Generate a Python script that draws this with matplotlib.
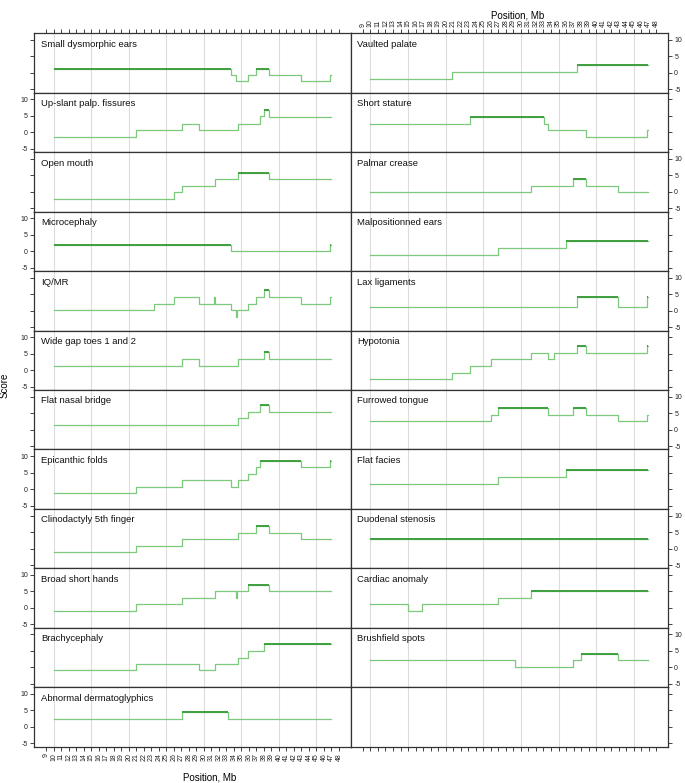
import matplotlib
matplotlib.use("Agg")
import matplotlib.pyplot as plt

plt.rcParams['font.family'] = ['Liberation Sans', 'DejaVu Sans']

END = 46.9

# Left column panels: (title, step start positions in Mb, score values)
left_titles = ["Small dysmorphic ears", "Up-slant palp. fissures", "Open mouth", "Microcephaly",
               "IQ/MR", "Wide gap toes 1 and 2", "Flat nasal bridge", "Epicanthic folds",
               "Clinodactyly 5th finger", "Broad short hands", "Brachycephaly",
               "Abnormal dermatoglyphics"]
left_pos = [
    [10, 33.6, 34.27, 35.91, 36.93, 38.62, 42.93, 46.76],
    [10, 20.89, 27.02, 29.29, 34.49, 37.47, 38.0, 38.62],
    [10, 26.0, 27.02, 31.42, 34.49, 38.62],
    [10, 33.6, 46.76],
    [10, 23.33, 26.0, 29.29, 31.35, 31.5, 33.6, 34.27, 34.42, 35.91, 36.93, 38.0, 38.62, 42.93, 46.76],
    [10, 27.02, 29.29, 34.49, 38.0, 38.62],
    [10, 34.49, 35.91, 37.47, 38.62],
    [10, 20.89, 27.02, 33.6, 34.49, 35.91, 36.93, 37.47, 42.93, 46.76],
    [10, 20.89, 27.02, 34.49, 36.93, 38.62, 42.93],
    [10, 20.89, 27.02, 31.42, 34.33, 34.45, 35.91, 38.62],
    [10, 20.89, 29.29, 31.42, 34.49, 35.91, 38.0],
    [10, 27.02, 33.16],
]
left_val = [
    [1.3, -0.5, -2.45, -0.5, 1.3, -0.5, -2.45, -0.5],
    [-1.3, 0.6, 2.55, 0.6, 2.55, 5.0, 6.8, 4.7],
    [-2.2, -0.15, 1.8, 3.8, 5.8, 3.8],
    [1.95, 0.0, 1.95],
    [0.2, 2.1, 4.1, 2.1, 4.1, 2.1, 0.2, -1.8, 0.2, 2.1, 4.1, 6.2, 4.1, 2.1, 4.1],
    [1.3, 3.3, 1.3, 3.3, 5.4, 3.3],
    [1.4, 3.4, 5.3, 7.5, 5.3],
    [-1.3, 0.7, 2.7, 0.6, 2.7, 4.6, 6.6, 8.6, 6.6, 8.6],
    [-1.0, 0.9, 2.8, 4.7, 6.9, 4.7, 2.8],
    [-0.9, 1.1, 3.1, 5.05, 3.1, 5.05, 7.1, 5.05],
    [-0.9, 1.0, -0.9, 1.0, 3.0, 5.05, 7.2],
    [2.5, 4.5, 2.5],
]

# Right column panels
right_titles = ["Vaulted palate", "Short stature", "Palmar crease", "Malpositionned ears",
                "Lax ligaments", "Hypotonia", "Furrowed tongue", "Flat facies",
                "Duodenal stenosis", "Cardiac anomaly", "Brushfield spots"]
right_pos = [
    [10, 20.9, 37.43],
    [10, 23.25, 33.13, 33.57, 38.67, 46.76],
    [10, 31.36, 36.9, 38.67, 42.87],
    [10, 26.92, 35.96],
    [10, 37.43, 42.87, 46.76],
    [10, 20.86, 23.29, 26.08, 31.36, 33.57, 34.37, 37.43, 38.67, 46.76],
    [10, 26.08, 26.92, 33.57, 36.98, 38.67, 42.87, 46.76],
    [10, 26.92, 35.96],
    [10],
    [10, 15.05, 16.87, 26.92, 31.36],
    [10, 29.2, 36.98, 38.0, 42.87],
]
right_val = [
    [-1.7, 0.3, 2.35],
    [2.55, 4.8, 2.55, 0.6, -1.3, 0.6],
    [0.0, 1.9, 3.9, 1.9, 0.0],
    [-1.0, 1.0, 3.06],
    [1.2, 4.2, 1.2, 4.2],
    [-2.7, -0.8, 1.2, 3.3, 5.2, 3.3, 5.2, 7.35, 5.2, 7.35],
    [2.5, 4.5, 6.6, 4.5, 6.6, 4.5, 2.5, 4.5],
    [1.6, 3.6, 5.65],
    [2.8],
    [1.1, -0.9, 1.1, 3.1, 5.05],
    [2.2, 0.2, 2.2, 4.1, 2.2],
]

x_ticks = list(range(9, 49))
y_ticks = [-5, 0, 5, 10]
grid_x = [10, 15, 20, 25, 30, 35, 40, 45]

W, H = 685, 783
fig = plt.figure(figsize=(W / 100, H / 100), dpi=100)

top_px, bot_px = 33.3, 746.7
nrows = 12
row_h = (bot_px - top_px) / nrows
col_x = [(34.0, 350.5), (350.5, 668.0)]

light = '#7cc97c'
dark = '#3f9f3f'
frame = '#333333'


def draw_panel(ax, title, pos, val):
    xs = list(pos) + [END]
    ys = list(val) + [val[-1]]
    ax.step(xs, ys, where='post', color=light, lw=0.9, zorder=3)
    vmax = max(val)
    for i, v in enumerate(val):
        if abs(v - vmax) < 1e-9:
            ax.hlines(v, xs[i], xs[i + 1], color=dark, lw=1.4, zorder=4)
    ax.text(0.022, 0.815, title, transform=ax.transAxes, ha='left', va='center',
            fontsize=6.8, color='#111111')


for col in range(2):
    titles = left_titles if col == 0 else right_titles
    poss = left_pos if col == 0 else right_pos
    vals = left_val if col == 0 else right_val
    x0, x1 = col_x[col]
    for r in range(nrows):
        y_top = top_px + r * row_h
        ax = fig.add_axes([x0 / W, 1 - (y_top + row_h) / H, (x1 - x0) / W, row_h / H])
        ax.set_xlim(7.35, 49.55)
        ax.set_ylim(-6, 12)
        for g in grid_x:
            ax.axvline(g, color='#dcdcdc', lw=0.8, zorder=1)
        if r < len(titles):
            draw_panel(ax, titles[r], poss[r], vals[r])
        for s in ax.spines.values():
            s.set_color(frame)
            s.set_linewidth(0.9)
        ax.set_xticks(x_ticks)
        ax.set_xticklabels([str(t) for t in x_ticks], rotation=90)
        ax.set_yticks(y_ticks)
        ax.set_yticklabels([str(t) for t in y_ticks])
        ax.tick_params(axis='both', direction='out', length=3, width=0.6,
                       labelsize=5, colors='#222222', pad=1.5)
        # x ticks only on outer edges
        show_top = (r == 0)
        show_bot = (r == nrows - 1)
        ax.tick_params(axis='x', top=show_top, bottom=show_bot,
                       labeltop=(show_top and col == 1),
                       labelbottom=(show_bot and col == 0))
        if col == 0:
            ax.tick_params(axis='y', left=True, right=False,
                           labelleft=(r % 2 == 1), labelright=False)
        else:
            ax.tick_params(axis='y', left=False, right=True,
                           labelleft=False, labelright=(r % 2 == 0))

fig.text(518 / W, 1 - 15 / H, "Position, Mb", ha='center', va='center', fontsize=7)
fig.text(210 / W, 1 - 777 / H, "Position, Mb", ha='center', va='center', fontsize=7)
fig.text(5 / W, 1 - 385 / H, "Score", ha='center', va='center', rotation=90, fontsize=7)

fig.savefig("out.png", dpi=100)
